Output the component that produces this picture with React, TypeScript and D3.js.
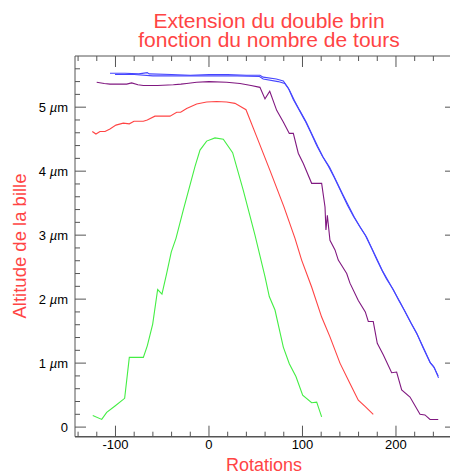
import React from "react";
import * as d3 from "d3";

const titleLines = ["Extension du double brin", "fonction du nombre de tours"];
const xLabel = "Rotations";
const yLabel = "Altitude de la bille";
const xMajorTicks = [-100, 0, 100, 200];
const yMajorTicks = [0, 1, 2, 3, 4, 5];
const yTickLabels = ["0", "1", "2", "3", "4", "5"];
const yUnit = "m";

const green: [number, number][] = [[-124.3,0.18],[-114.7,0.12],[-109.4,0.23],[-100.5,0.33],[-90.2,0.45],[-85.2,1.09],[-70.2,1.09],[-66,1.27],[-60.2,1.61],[-54.9,2.15],[-50.3,2.08],[-45.3,2.40],[-40.3,2.74],[-35.3,2.95],[-27.5,3.39],[-15,4.07],[-9.6,4.33],[-2.5,4.47],[6.4,4.52],[15.3,4.50],[25.3,4.29],[36.7,3.70],[49.2,3.0],[59.9,2.35],[64.5,2.04],[70.6,1.83],[79.5,1.25],[85.9,0.99],[93,0.79],[100.2,0.50],[109.8,0.38],[115.2,0.39],[120.5,0.16]];

const red: [number, number][] = [[-124.8,4.62],[-120.9,4.58],[-116.6,4.62],[-111.2,4.62],[-105.9,4.66],[-99.5,4.72],[-91.7,4.75],[-85.2,4.74],[-80.2,4.78],[-70.2,4.78],[-66,4.80],[-57.8,4.86],[-52.4,4.86],[-41.7,4.86],[-34.5,4.92],[-30.3,4.92],[-23.9,4.98],[-13.2,5.05],[-2.5,5.08],[8.2,5.09],[18.9,5.08],[27.8,5.06],[39.6,4.96],[51,4.54],[65,4.02],[80,3.45],[92,2.95],[99.1,2.61],[109.8,2.19],[120.5,1.72],[129.4,1.41],[140.1,1.0],[150.8,0.68],[159.7,0.42],[167.2,0.32],[175.7,0.20]];

const purple: [number, number][] = [[-120.1,5.39],[-112,5.37],[-105.9,5.36],[-95,5.36],[-88,5.36],[-82.7,5.38],[-76,5.35],[-70.2,5.34],[-55,5.34],[-38.1,5.35],[-30,5.36],[-23.9,5.37],[-13.2,5.39],[0,5.40],[18.9,5.39],[33.2,5.37],[45,5.34],[54.5,5.31],[59.9,5.13],[65,5.25],[72.4,4.95],[79.5,4.77],[85.9,4.59],[90.2,4.59],[95.5,4.28],[100.9,4.12],[109.8,3.81],[120.5,3.81],[124.1,3.44],[125.1,3.08],[126.6,3.31],[129.4,2.92],[134.8,2.77],[138.3,2.61],[147.3,2.40],[150.8,2.25],[159.7,1.98],[167.2,1.80],[170.4,1.65],[175.7,1.65],[180,1.31],[186.4,1.13],[195.4,0.85],[200.7,0.86],[206.1,0.58],[215,0.47],[225.7,0.20],[231,0.19],[236.4,0.12],[245.2,0.12]];

const blueA: [number, number][] = [[-105.9,5.53],[-90,5.53],[-75,5.52],[-66,5.54],[-64,5.52],[-40,5.51],[-20,5.5],[0,5.51],[20,5.51],[40,5.5],[54.5,5.5],[58,5.47],[72,5.44],[79.5,5.41],[84.8,5.30],[90.2,5.12],[96,4.97],[102.7,4.79],[109,4.60],[115.2,4.40],[121,4.24],[127.6,4.08],[134,3.90],[141.9,3.66],[148,3.47],[154.3,3.30],[161,3.14],[167.2,3.0],[174,2.79],[179.4,2.62],[185,2.45],[190,2.31],[197.1,2.15],[203,1.98],[209.6,1.81],[216,1.63],[222.1,1.47],[229,1.24],[236.4,1.01],[240,0.95],[245.2,0.80]];

const blueB: [number, number][] = [[-100.5,5.51],[-80,5.51],[-60,5.49],[-30,5.49],[0,5.49],[30,5.49],[54,5.48],[58,5.44],[74,5.40],[81,5.37],[86,5.27],[91.5,5.10],[97,4.95],[104,4.77],[110,4.58],[116.5,4.38],[122,4.22],[129,4.06],[135,3.88],[143,3.64],[149.5,3.45],[155.5,3.28],[162,3.12],[168.5,2.97],[175,2.77],[180.5,2.60],[186,2.43],[191.5,2.29],[198,2.12],[204.5,1.95],[210.5,1.78],[217,1.60],[223,1.44],[230,1.22],[237,1.0],[241,0.93],[245.5,0.77]];

const series = [
  { data: green, color: "#44ee44" },
  { data: red, color: "#ff4444" },
  { data: purple, color: "#801880" },
  { data: blueA, color: "#4646ff" },
  { data: blueB, color: "#4646ff" },
];

export default function App() {
  const W = 450, H = 474;
  const left = 75, right = 456, top = 56, bottom = 436.7;
  const x = d3.scaleLinear().domain([-143.3, 264.2]).range([left, right]);
  const y = d3.scaleLinear().domain([-0.15, 5.8]).range([bottom, top]);
  const line = d3.line<[number, number]>().x(d => x(d[0])).y(d => y(d[1]));
  const xMinor = d3.range(-140, 261, 20).filter(v => !xMajorTicks.includes(v));
  const yMinor = d3.range(0, 5.8, 0.2).filter(v => Math.abs(v - Math.round(v)) > 0.01);
  const axisColor = "#555";
  const font = "Liberation Sans, Arial, sans-serif";
  const labelColor = "#ff4444";
  return (
    <svg width={W} height={H} style={{ position: "absolute", left: 0, top: 0 }} fontFamily={font}>
      <rect x={0} y={0} width={W} height={H} fill="#fff" />
      <line x1={left} x2={right} y1={top} y2={top} stroke={axisColor} />
      <line x1={left} x2={right} y1={bottom} y2={bottom} stroke={axisColor} strokeWidth={1.5} />
      <line x1={left} x2={left} y1={top} y2={bottom} stroke={axisColor} />
      <line x1={right} x2={right} y1={top} y2={bottom} stroke={axisColor} />
      {xMajorTicks.map(v => (
        <g key={"xm" + v}>
          <line x1={x(v)} x2={x(v)} y1={bottom} y2={bottom - 11} stroke={axisColor} />
          <line x1={x(v)} x2={x(v)} y1={top} y2={top + 11} stroke={axisColor} />
          <text x={x(v)} y={449} textAnchor="middle" fontSize={13} fill="#000">{v}</text>
        </g>
      ))}
      {xMinor.map(v => (
        <g key={"xn" + v}>
          <line x1={x(v)} x2={x(v)} y1={bottom} y2={bottom - 5} stroke={axisColor} />
          <line x1={x(v)} x2={x(v)} y1={top} y2={top + 5} stroke={axisColor} />
        </g>
      ))}
      {yMajorTicks.map((v, i) => (
        <g key={"ym" + v}>
          <line x1={left} x2={left + 11} y1={y(v)} y2={y(v)} stroke={axisColor} />
          <line x1={right} x2={right - 11} y1={y(v)} y2={y(v)} stroke={axisColor} />
          <text x={68} y={y(v)} dy="0.36em" textAnchor="end" fontSize={13} fill="#000">
            {v === 0 ? yTickLabels[i] : (
              <>
                {yTickLabels[i] + " "}
                <tspan fontStyle="italic">µ</tspan>
                {yUnit}
              </>
            )}
          </text>
        </g>
      ))}
      {yMinor.map(v => (
        <g key={"yn" + v.toFixed(1)}>
          <line x1={left} x2={left + 5} y1={y(v)} y2={y(v)} stroke={axisColor} />
          <line x1={right} x2={right - 5} y1={y(v)} y2={y(v)} stroke={axisColor} />
        </g>
      ))}
      {series.map((s, i) => (
        <path key={i} d={line(s.data) || ""} fill="none" stroke={s.color} strokeWidth={1.1} />
      ))}
      <text x={269} y={27.8} textAnchor="middle" fontSize={21} fill={labelColor}>{titleLines[0]}</text>
      <text x={269} y={47} textAnchor="middle" fontSize={21} fill={labelColor}>{titleLines[1]}</text>
      <text x={264} y={470.7} textAnchor="middle" fontSize={18} fill={labelColor}>{xLabel}</text>
      <text transform="translate(26,246) rotate(-90)" textAnchor="middle" fontSize={18.5} fill={labelColor}>{yLabel}</text>
    </svg>
  );
}
